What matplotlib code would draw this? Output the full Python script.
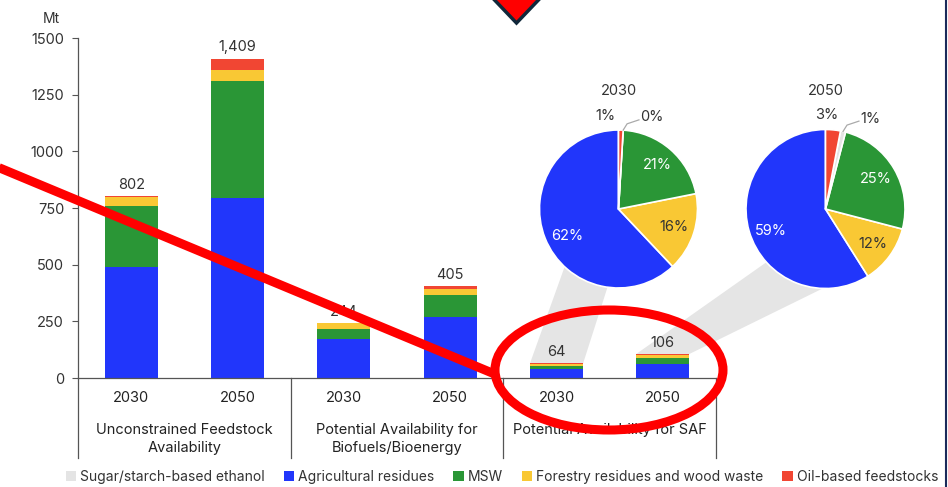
import matplotlib
matplotlib.use("Agg")
import matplotlib.pyplot as plt
import numpy as np
from matplotlib.patches import Patch, Polygon, Ellipse
from matplotlib.lines import Line2D

plt.rcParams['font.family'] = ['Inter', 'DejaVu Sans']

# ---- data (Mt) ----
years = ["2030", "2050", "2030", "2050", "2030", "2050"]
groups = ["Unconstrained Feedstock\nAvailability",
          "Potential Availability for\nBiofuels/Bioenergy",
          "Potential Availability for SAF"]
series = ["Sugar/starch-based ethanol", "Agricultural residues", "MSW",
          "Forestry residues and wood waste", "Oil-based feedstocks"]
sugar    = [0.0, 0.0, 0.0, 0.0, 0.0, 1.1]
agri     = [490, 795, 171, 270, 39.7, 62.5]
msw      = [270, 515, 46, 97, 13.4, 26.5]
forestry = [40, 50, 24, 27, 10.3, 12.7]
oil      = [2, 49, 3, 11, 0.6, 3.2]
totals   = [802, 1409, 244, 405, 64, 106]
total_labels = ["802", "1,409", "244", "405", "64", "106"]

colors = {"Sugar/starch-based ethanol": "#e4e4e4",
          "Agricultural residues": "#2136fb",
          "MSW": "#2a9636",
          "Forestry residues and wood waste": "#f9c834",
          "Oil-based feedstocks": "#f14633"}

W, H = 948, 487
fig = plt.figure(figsize=(W / 100, H / 100), dpi=100)
fig.patch.set_facecolor("white")

def fx(px):
    return px / W

def fy(py):
    return 1 - py / H

ax = fig.add_axes([fx(78), fy(378), fx(716) - fx(78), fy(38) - fy(378)])
x = np.arange(len(years))
stack = [("Agricultural residues", agri), ("MSW", msw),
         ("Forestry residues and wood waste", forestry),
         ("Oil-based feedstocks", oil), ("Sugar/starch-based ethanol", sugar)]
bottom = np.zeros(len(x))
for name, vals in stack:
    vals = np.array(vals, dtype=float)
    ax.bar(x, vals, bottom=bottom, width=0.5, color=colors[name], linewidth=0, zorder=2)
    bottom += vals

for xi, t, lab in zip(x, totals, total_labels):
    ax.annotate(lab, (xi, t), xytext=(0, 3), textcoords="offset points",
                ha="center", va="bottom", fontsize=10.5, color="#333333")

ax.set_xlim(-0.5, 5.5)
ax.set_ylim(0, 1500)
ax.set_yticks([0, 250, 500, 750, 1000, 1250, 1500])
ax.tick_params(axis="y", length=4, width=0.8, color="#555555", labelsize=10.5,
               labelcolor="#333333", pad=6)
ax.set_xticks([])
for s in ("top", "right"):
    ax.spines[s].set_visible(False)
for s in ("left", "bottom"):
    ax.spines[s].set_color("#555555")
    ax.spines[s].set_linewidth(0.9)
ax.text(-0.028, 1.035, "Mt", transform=ax.transAxes, ha="right", va="bottom",
        fontsize=10, color="#333333")

# category axis: years and group boxes below the bars
xt = ax.get_xaxis_transform()
for xi, yr in zip(x, years):
    ax.text(xi, -0.06, yr, transform=xt, ha="center", va="center",
            fontsize=10.5, color="#222222")
for b in (-0.5, 1.5, 3.5, 5.5):
    ax.add_line(Line2D([b, b], [0, -0.235], transform=xt, color="#555555",
                       lw=0.9, clip_on=False))
for gi, g in enumerate(groups):
    ax.text(2 * gi + 0.5, -0.133, g, transform=xt, ha="center", va="top",
            fontsize=10.5, color="#222222", linespacing=1.3)

# ---- pies for the SAF bars ----
order = [("Agricultural residues", agri), ("Forestry residues and wood waste", forestry),
         ("MSW", msw), ("Sugar/starch-based ethanol", sugar), ("Oil-based feedstocks", oil)]
pie_specs = [(4, 618.5, 209, 79), (5, 825.5, 209, 79.5)]
pie_axes = []
for idx, cx, cy, r in pie_specs:
    pax = fig.add_axes([fx(cx - r), fy(cy + r), fx(2 * r), fy(0) - fy(2 * r)])
    pax.set_xlim(-1, 1)
    pax.set_ylim(-1, 1)
    pax.axis("off")
    pie_axes.append((idx, pax))

# connector bands (bar top -> pie)
band_angles = {4: (227, 262), 5: (222, 268)}
for idx, pax in pie_axes:
    x0, y0 = ax.transData.transform((idx - 0.25, totals[idx]))
    x1, y1 = ax.transData.transform((idx + 0.25, totals[idx]))
    a0, a1 = np.radians(band_angles[idx])
    p0 = pax.transData.transform((np.cos(a0), np.sin(a0)))
    p1 = pax.transData.transform((np.cos(a1), np.sin(a1)))
    poly = Polygon([(x0, y0), (x1, y1), tuple(p1), tuple(p0)], closed=True,
                   transform=None, facecolor="#e5e5e5", edgecolor="none",
                   zorder=1, clip_on=False)
    ax.add_patch(poly)

for idx, pax in pie_axes:
    names = [n for n, _ in order]
    vals = np.array([v[idx] for _, v in order], dtype=float)
    share = vals / vals.sum() * 100
    wedges, _ = pax.pie(vals, colors=[colors[n] for n in names], startangle=90,
                        counterclock=True, radius=1,
                        wedgeprops=dict(edgecolor="white", linewidth=1.2))
    pax.set_xlim(-1, 1)
    pax.set_ylim(-1, 1)
    pax.set_aspect("equal")
    pax.text(0, 1.49, years[idx], ha="center", va="center", fontsize=10.5, color="#333333")
    for w, n, p in zip(wedges, names, share):
        mid = (w.theta1 + w.theta2) / 2
        lab = f"{p:.0f}%"
        if p >= 5:
            if n == "Agricultural residues":
                mid += 6
            mid = np.radians(mid)
            tc = "#333333" if n == "Forestry residues and wood waste" else "white"
            pax.text(0.74 * np.cos(mid), 0.74 * np.sin(mid), lab, ha="center",
                     va="center", fontsize=10.5, color=tc)
        elif n == "Oil-based feedstocks":
            dx = -0.17 if p < 2 else 0.02
            pax.text(dx, 1.18, lab, ha="center", va="center", fontsize=10.5, color="#333333")
        else:
            mid = np.radians(mid)
            ex, ey = np.cos(mid), np.sin(mid)
            pax.add_line(Line2D([ex, ex + 0.05, ex + 0.2], [ey, ey + 0.08, ey + 0.13],
                                color="#aaaaaa", lw=0.9, clip_on=False))
            pax.text(ex + 0.22, ey + 0.16, lab, ha="left", va="center", fontsize=10.5,
                     color="#333333")

# ---- legend ----
handles = [Patch(facecolor=colors[n], edgecolor="none", label=n) for n in series]
fig.legend(handles=handles, loc="center", bbox_to_anchor=(fx(502), fy(477)), ncol=5,
           frameon=False, fontsize=10, handlelength=0.75, handleheight=0.75,
           handletextpad=0.3, columnspacing=1.35, labelcolor="#333333")

# ---- overlay marks ----
ov = fig.add_axes([0, 0, 1, 1], zorder=10)
ov.set_xlim(0, W)
ov.set_ylim(H, 0)
ov.axis("off")
ov.patch.set_alpha(0)
ov.plot([-5, 497], [166, 375], color="#ff0000", lw=6.5, solid_capstyle="butt")
ov.add_patch(Ellipse((609, 370), 228, 120, fill=False, edgecolor="#ff0000", lw=6.5))
ov.add_patch(Polygon([(485, -10), (548, -10), (516.5, 23)], closed=True,
                     facecolor="#ff0000", edgecolor="#10283a", lw=2.5, joinstyle="miter"))
ov.plot([946.5, 946.5], [0, H], color="#1b2a5a", lw=1.5)

fig.savefig("out.png", dpi=100)
